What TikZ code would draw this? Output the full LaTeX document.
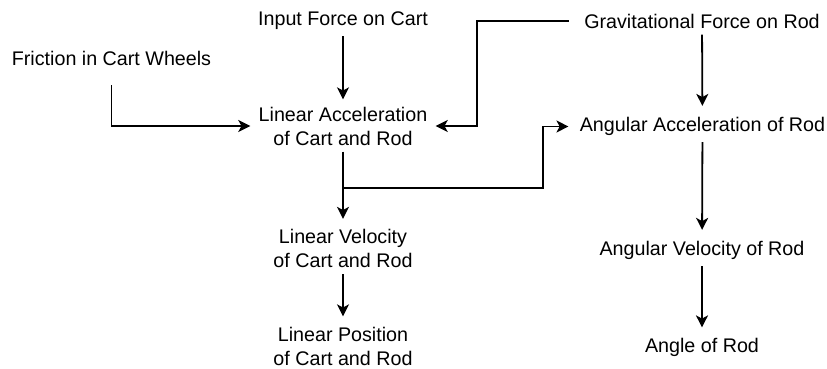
\documentclass[tikz,border=0pt]{standalone}
\usepackage{fontspec}
\setmainfont{Liberation Sans}
\usetikzlibrary{arrows.meta}

\begin{document}
\begin{tikzpicture}[x=0.5pt,y=-0.5pt,
		lbl/.style={inner sep=0pt, align=center, font=\fontsize{9.85}{12}\selectfont},
		flow/.style={-{Stealth[length=6pt,width=6pt,inset=1.6pt]}, line width=0.9pt, shorten <=3pt, shorten >=5pt}]
		\useasboundingbox (0,0) rectangle (827,369);
		\node[lbl] (inp) at (343,21) {Input Force on Cart};
		\node[lbl] (fric) at (111.5,58.5) {Friction in Cart Wheels};
		\node[lbl] (grav) at (702,21) {Gravitational Force on Rod};
		\node[lbl] (linacc) at (343,126) {Linear Acceleration\\of Cart and Rod};
		\node[lbl] (angacc) at (702.5,126.5) {Angular Acceleration of Rod};
		\node[lbl] (linvel) at (343,248.5) {Linear Velocity\\of Cart and Rod};
		\node[lbl] (angvel) at (702,250.5) {Angular Velocity of Rod};
		\node[lbl] (linpos) at (343,346) {Linear Position\\of Cart and Rod};
		\node[lbl] (rodangle) at (702,347) {Angle of Rod};
		\draw[flow, shorten >=3.5pt] (inp) -- (linacc);
		\draw[flow, shorten <=9.5pt, shorten >=4pt] (fric.south) |- (linacc.west);
		\draw[flow, shorten <=7.5pt, shorten >=4pt] (grav.west) -- ++(-107,0) |- (linacc.east);
		\draw[flow, shorten >=5.5pt] (grav) -- (angacc);
		\draw[flow] (linacc) -- (linvel);
		\path (linacc.south) ++(0,42) coordinate (split);
		\draw[flow, shorten <=0pt, shorten >=5.5pt] (split) -- ++(200,0) |- (angacc.west);
		\draw[flow] (linvel) -- (linpos);
		\draw[flow, shorten >=5.5pt] (angacc) -- (angvel);
		\draw[flow] (angvel) -- (rodangle);
	\end{tikzpicture}
\end{document}
